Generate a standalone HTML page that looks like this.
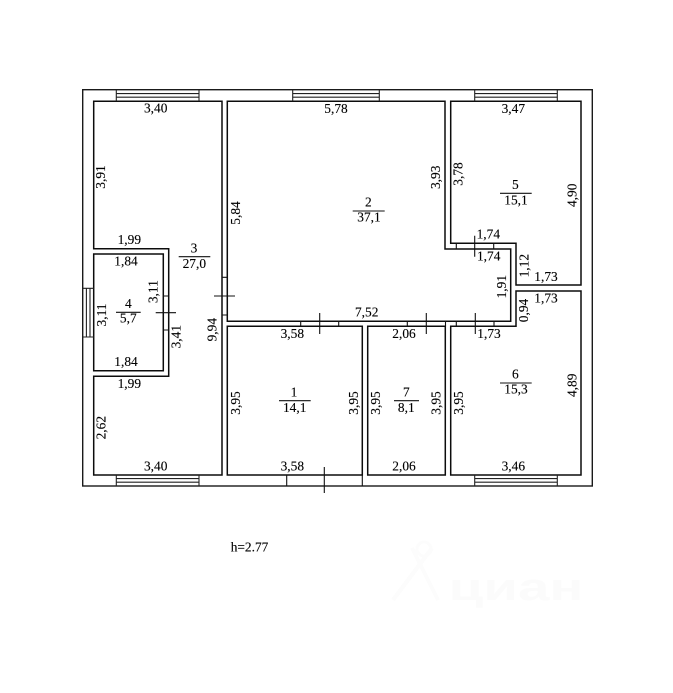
<!DOCTYPE html>
<html><head><meta charset="utf-8"><style>
html,body{margin:0;padding:0;background:#fff;width:673px;height:693px;overflow:hidden}
svg{display:block}
text{font-family:"Liberation Serif",serif;font-size:13.4px;fill:#000;stroke:#000;stroke-width:.12;text-anchor:middle}
.w{fill:none;stroke:#0c0c0c;stroke-width:1.5}
.t{fill:none;stroke:#111;stroke-width:1.1}
.g{fill:none;stroke:#222;stroke-width:1.1}
</style></head><body>
<svg width="673" height="693" viewBox="0 0 673 693" xmlns="http://www.w3.org/2000/svg">
<!-- outer -->
<rect x="82.7" y="89.7" width="509.6" height="396.3" fill="none" stroke="#1a1a1a" stroke-width="1.4"/>
<!-- rooms -->
<path class="w" d="M93.7 101.3H222V475H93.7V376.3H168.7V248.7H93.7Z"/>
<path class="w" d="M93.7 254H163.3V370.7H93.7Z"/>
<path class="w" d="M227.3 101.3H445V249H510.7V321.3H227.3Z"/>
<path class="w" d="M227.3 326.3H362.3V475H227.3Z"/>
<path class="w" d="M367.7 326.3H445.3V475H367.7Z"/>
<path class="w" d="M450.7 326.3H516V291H581V475H450.7Z"/>
<path class="w" d="M450.7 101.3H581V285H516V243.3H450.7Z"/>
<!-- windows -->
<g class="g">
<path d="M116.3 89.7V101.3M199 89.7V101.3M116.3 93.6H199M116.3 97.2H199"/>
<path d="M292.7 89.7V101.3M379.3 89.7V101.3M292.7 93.6H379.3M292.7 97.2H379.3"/>
<path d="M474.7 89.7V101.3M557.3 89.7V101.3M474.7 93.6H557.3M474.7 97.2H557.3"/>
<path d="M116.3 475V486M199 475V486M116.3 478.6H199M116.3 482.2H199"/>
<path d="M474.7 475V486M557.3 475V486M474.7 478.6H557.3M474.7 482.2H557.3"/>
<path d="M82.7 288.3H93.7M82.7 337H93.7M86.4 288.3V337M90 288.3V337"/>
</g>
<!-- doors -->
<g class="t">
<path d="M286.7 475V486M362.3 475V486M324.3 467V493"/>
<path d="M222 277.3H227.3M222 315H227.3M214 296H235"/>
<path d="M163.3 296H168.7M163.3 330H168.7M155.7 312.7H176"/>
<path d="M300.7 321.3V326.3M338.7 321.3V326.3M319.7 313V334"/>
<path d="M407.3 321.3V326.3M445.5 321.3V326.3M426.3 313V334"/>
<path d="M456.3 321.3V326.3M494 321.3V326.3M475.3 313V334"/>
<path d="M456.3 243.3V249M493.7 243.3V249M474.7 235.7V256.7"/>
<path d="M338.7 326.3H362.3M450.7 326.3H516"/>
</g>
<!-- fraction bars -->
<g class="t">
<path d="M178.7 256.7H210.3M116 312.3H140.7M279 400.7H310.7M394 400.7H419M500 193.3H531.7M500 383H531.7M352.7 211H384.7"/>
</g>
<!-- horizontal labels -->
<text x="155.7" y="112.7">3,40</text>
<text x="336" y="113">5,78</text>
<text x="513.3" y="113">3,47</text>
<text x="129.3" y="244">1,99</text>
<text x="126" y="265.3">1,84</text>
<text x="194" y="252.3">3</text>
<text x="194.3" y="268">27,0</text>
<text x="128.3" y="308">4</text>
<text x="128.3" y="322.7">5,7</text>
<text x="126" y="366">1,84</text>
<text x="129.3" y="388">1,99</text>
<text x="155.7" y="470.7">3,40</text>
<text x="292.3" y="338">3,58</text>
<text x="294" y="396.7">1</text>
<text x="294.7" y="412">14,1</text>
<text x="292.3" y="470.7">3,58</text>
<text x="406.3" y="396.7">7</text>
<text x="406.3" y="412">8,1</text>
<text x="404" y="338">2,06</text>
<text x="404" y="470.7">2,06</text>
<text x="489" y="338">1,73</text>
<text x="366.7" y="316.7">7,52</text>
<text x="546" y="281">1,73</text>
<text x="546" y="302.3">1,73</text>
<text x="488.3" y="238.7">1,74</text>
<text x="488.7" y="260.7">1,74</text>
<text x="515.3" y="189">5</text>
<text x="516" y="204.3">15,1</text>
<text x="515.3" y="378.7">6</text>
<text x="516" y="393.7">15,3</text>
<text x="368.3" y="206.7">2</text>
<text x="369" y="221.7">37,1</text>
<text x="513.3" y="470.7">3,46</text>
<!-- vertical labels -->
<text transform="translate(105,177) rotate(-90)">3,91</text>
<text transform="translate(240,213) rotate(-90)">5,84</text>
<text transform="translate(157.7,291.7) rotate(-90)">3,11</text>
<text transform="translate(106,315) rotate(-90)">3,11</text>
<text transform="translate(180.7,336.7) rotate(-90)">3,41</text>
<text transform="translate(216.7,329.7) rotate(-90)">9,94</text>
<text transform="translate(105.3,427.7) rotate(-90)">2,62</text>
<text transform="translate(240,403) rotate(-90)">3,95</text>
<text transform="translate(358,403) rotate(-90)">3,95</text>
<text transform="translate(380,403) rotate(-90)">3,95</text>
<text transform="translate(440.7,403) rotate(-90)">3,95</text>
<text transform="translate(463,403) rotate(-90)">3,95</text>
<text transform="translate(506,286.7) rotate(-90)">1,91</text>
<text transform="translate(528,310.5) rotate(-90)">0,94</text>
<text transform="translate(528.3,265.7) rotate(-90)">1,12</text>
<text transform="translate(440,177.3) rotate(-90)">3,93</text>
<text transform="translate(462.7,174) rotate(-90)">3,78</text>
<text transform="translate(576.7,195.3) rotate(-90)">4,90</text>
<text transform="translate(576.7,385.3) rotate(-90)">4,89</text>
<text x="230.7" y="551.3" style="text-anchor:start">h=2.77</text>
<!-- faint watermark -->
<path d="M393 600L432 548M412 548L438 600" fill="none" stroke="#fcfcfc" stroke-width="4"/>
<circle cx="424" cy="549" r="7" fill="none" stroke="#fcfcfc" stroke-width="3"/>
<text x="516" y="600" textLength="135" lengthAdjust="spacingAndGlyphs" style="font-family:'Liberation Sans',sans-serif;font-size:38px;fill:#fbfbfb;stroke:none;font-weight:bold">циан</text>
</svg>
</body></html>
